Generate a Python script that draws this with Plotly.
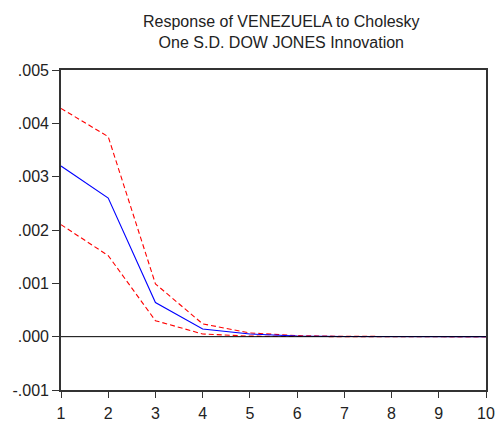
import plotly.graph_objects as go

periods = [1, 2, 3, 4, 5, 6, 7, 8, 9, 10]
response = [0.00320, 0.00260, 0.00064, 0.000145, 0.00005, 0.000012, 0.000003, 0.000001, 0.0, 0.0]
upper = [0.00428, 0.00375, 0.00099, 0.00024, 0.00007, 0.00002, 0.000006, 0.000002, 0.000001, 0.0]
lower = [0.00210, 0.00152, 0.00030, 0.00005, 0.00001, 0.000002, 0.0, 0.0, 0.0, 0.0]
ytick_vals = [-0.001, 0.0, 0.001, 0.002, 0.003, 0.004, 0.005]
ytick_text = ["-.001", ".000", ".001", ".002", ".003", ".004", ".005"]
title_text = "Response of VENEZUELA to Cholesky<br>One S.D. DOW JONES Innovation"

FONT = "Liberation Sans, Arial, sans-serif"

fig = go.Figure()
fig.add_trace(go.Scatter(x=periods, y=upper, mode="lines",
                         line=dict(color="#ff0000", width=1.1, dash="5px,3px")))
fig.add_trace(go.Scatter(x=periods, y=lower, mode="lines",
                         line=dict(color="#ff0000", width=1.1, dash="5px,3px")))
fig.add_trace(go.Scatter(x=periods, y=response, mode="lines",
                         line=dict(color="#0000ff", width=1.1)))
fig.add_hline(y=0, line=dict(color="black", width=1))

fig.update_layout(
    width=497, height=425,
    margin=dict(l=61, r=11, t=70, b=35, autoexpand=False),
    paper_bgcolor="white", plot_bgcolor="white",
    showlegend=False,
    font=dict(family=FONT, color="#222"),
    annotations=[dict(text=title_text, xref="paper", yref="paper",
                      x=0.519, y=1.184, xanchor="center", yanchor="top",
                      showarrow=False, align="center",
                      font=dict(family=FONT, size=16, color="#222"))],
)
fig.update_xaxes(range=[1, 10], tickvals=periods, ticks="outside", ticklen=6,
                 tickcolor="#333", showgrid=False, zeroline=False, automargin=False,
                 showline=True, linecolor="#333", linewidth=1.6, mirror=True,
                 ticklabelstandoff=2,
                 tickfont=dict(size=16, color="#222"))
fig.update_yaxes(range=[-0.001, 0.005], tickvals=ytick_vals, ticktext=ytick_text,
                 ticks="outside", ticklen=7, tickcolor="#333", showgrid=False,
                 automargin=False,
                 zeroline=False, showline=True, linecolor="#333", linewidth=1.6,
                 mirror=True, tickfont=dict(size=16, color="#222"))

# remove the default page margin so the figure fills the window exactly
fig.write_html(
    "out.html",
    config={"displayModeBar": False},
    post_script="document.body.style.margin='0';"
                "document.body.style.overflow='hidden';"
                "document.documentElement.style.overflow='hidden';",
)
